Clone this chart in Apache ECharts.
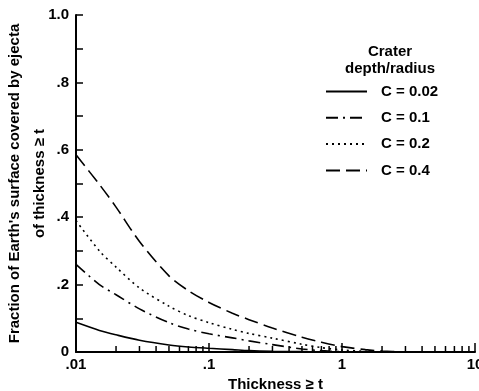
<!DOCTYPE html>
<html>
<head>
<meta charset="utf-8">
<script src="https://cdn.jsdelivr.net/npm/echarts@6/dist/echarts.min.js"></script>
<style>
  html, body { margin: 0; padding: 0; background: #fff; }
  #chart { width: 479px; height: 391px; }
</style>
</head>
<body>
<div id="chart"></div>
<script>
// thickness values (x, log axis)
const thickness = [0.01, 0.015, 0.02, 0.03, 0.05, 0.07, 0.1, 0.15, 0.2, 0.3, 0.5, 0.7, 1, 1.5, 2, 3];

// fraction of surface covered
const c002 = [0.088, 0.064, 0.051, 0.035, 0.021, 0.015, 0.011, 0.007, 0.004, 0.002, 0.001, 0, 0, 0, 0, 0];
const c01 = [0.26, 0.2, 0.17, 0.128, 0.087, 0.068, 0.054, 0.042, 0.033, 0.022, 0.009, 0.004, 0.001, 0, 0, 0];
const c02 = [0.39, 0.3, 0.252, 0.19, 0.136, 0.108, 0.087, 0.067, 0.055, 0.041, 0.023, 0.013, 0.006, 0.002, 0, 0];
const c04 = [0.585, 0.497, 0.43, 0.328, 0.226, 0.182, 0.147, 0.115, 0.096, 0.071, 0.044, 0.029, 0.016, 0.007, 0.003, 0];

const seriesNames = ['C = 0.02', 'C = 0.1', 'C = 0.2', 'C = 0.4'];
const xTickLabels = ['.01', '.1', '1', '10'];
const yTickLabels = ['0', '.2', '.4', '.6', '.8', '1.0'];
const minorTicks = [0.02, 0.03, 0.04, 0.05, 0.06, 0.07, 0.08, 0.09,
  0.2, 0.3, 0.4, 0.5, 0.6, 0.7, 0.8, 0.9,
  2, 3, 4, 5, 6, 7, 8, 9];

const FONT = '"Liberation Sans", Arial, sans-serif';
const toPairs = (vals) => thickness.map((t, i) => [t, vals[i]]);

const lineSeries = (name, vals, dash) => ({
  name: name,
  type: 'line',
  data: toPairs(vals),
  showSymbol: false,
  symbol: 'none',
  smooth: 0.3,
  lineStyle: { color: '#000', width: 1.6, type: dash },
  itemStyle: { color: '#000' },
  z: 3,
});

const chart = echarts.init(document.getElementById('chart'));

chart.setOption({
  animation: false,
  backgroundColor: '#fff',
  textStyle: { fontFamily: FONT },
  grid: { left: 76, right: 4, top: 15, bottom: 39, containLabel: false, outerBoundsMode: 'none' },
  title: {
    text: 'Crater\ndepth/radius',
    left: 385,
    top: 38,
    textAlign: 'center',
    textStyle: { fontFamily: FONT, fontSize: 15, fontWeight: 'bold', color: '#000', lineHeight: 17 },
  },
  legend: {
    data: seriesNames,
    orient: 'vertical',
    left: 320,
    top: 79,
    itemWidth: 41,
    itemHeight: 14,
    itemGap: 11.3,
    itemStyle: { opacity: 0 },
    textStyle: { fontFamily: FONT, fontSize: 15, fontWeight: 'bold', color: '#000', padding: [0, 0, 0, 9] },
  },
  xAxis: {
    type: 'log',
    logBase: 10,
    min: 0.01,
    max: 10,
    name: 'Thickness \u2265 t',
    nameLocation: 'middle',
    nameGap: 25,
    nameMoveOverlap: false,
    nameTextStyle: { fontFamily: FONT, fontSize: 15, fontWeight: 'bold', color: '#000' },
    axisLine: { lineStyle: { color: '#000', width: 2 } },
    axisTick: { inside: true, length: 9, lineStyle: { color: '#000', width: 1.5 } },
    splitLine: { show: false },
    axisLabel: {
      margin: 5,
      color: '#000',
      fontFamily: FONT,
      fontSize: 15,
      fontWeight: 'bold',
      formatter: (v) => xTickLabels[Math.round(Math.log10(v)) + 2],
    },
  },
  yAxis: {
    type: 'value',
    min: 0,
    max: 1,
    interval: 0.1,
    name: 'Fraction of Earth\'s surface covered by ejecta\nof thickness \u2265 t',
    nameLocation: 'middle',
    nameGap: 24,
    nameMoveOverlap: false,
    nameTextStyle: { fontFamily: FONT, fontSize: 15, fontWeight: 'bold', color: '#000', lineHeight: 25 },
    axisLine: { show: true, lineStyle: { color: '#000', width: 2 } },
    axisTick: { show: true, inside: true, length: 7, lineStyle: { color: '#000', width: 1.5 } },
    splitLine: { show: false },
    axisLabel: {
      margin: 7,
      color: '#000',
      fontFamily: FONT,
      fontSize: 15,
      fontWeight: 'bold',
      formatter: (v) => {
        const k = Math.round(v * 10);
        return k % 2 === 0 ? yTickLabels[k / 2] : '';
      },
    },
  },
  series: [
    lineSeries(seriesNames[0], c002, 'solid'),
    lineSeries(seriesNames[1], c01, [12, 5, 2, 5]),
    lineSeries(seriesNames[2], c02, [2, 4]),
    lineSeries(seriesNames[3], c04, [14, 6]),
    {
      name: 'minor ticks',
      type: 'custom',
      data: minorTicks.map((t) => [t, 0]),
      clip: false,
      silent: true,
      z: 4,
      renderItem: (params, api) => {
        const p = api.coord([api.value(0), 0]);
        return {
          type: 'line',
          shape: { x1: p[0], y1: p[1], x2: p[0], y2: p[1] - 6 },
          style: { stroke: '#000', lineWidth: 1.5 },
        };
      },
    },
  ],
});
</script>
</body>
</html>
